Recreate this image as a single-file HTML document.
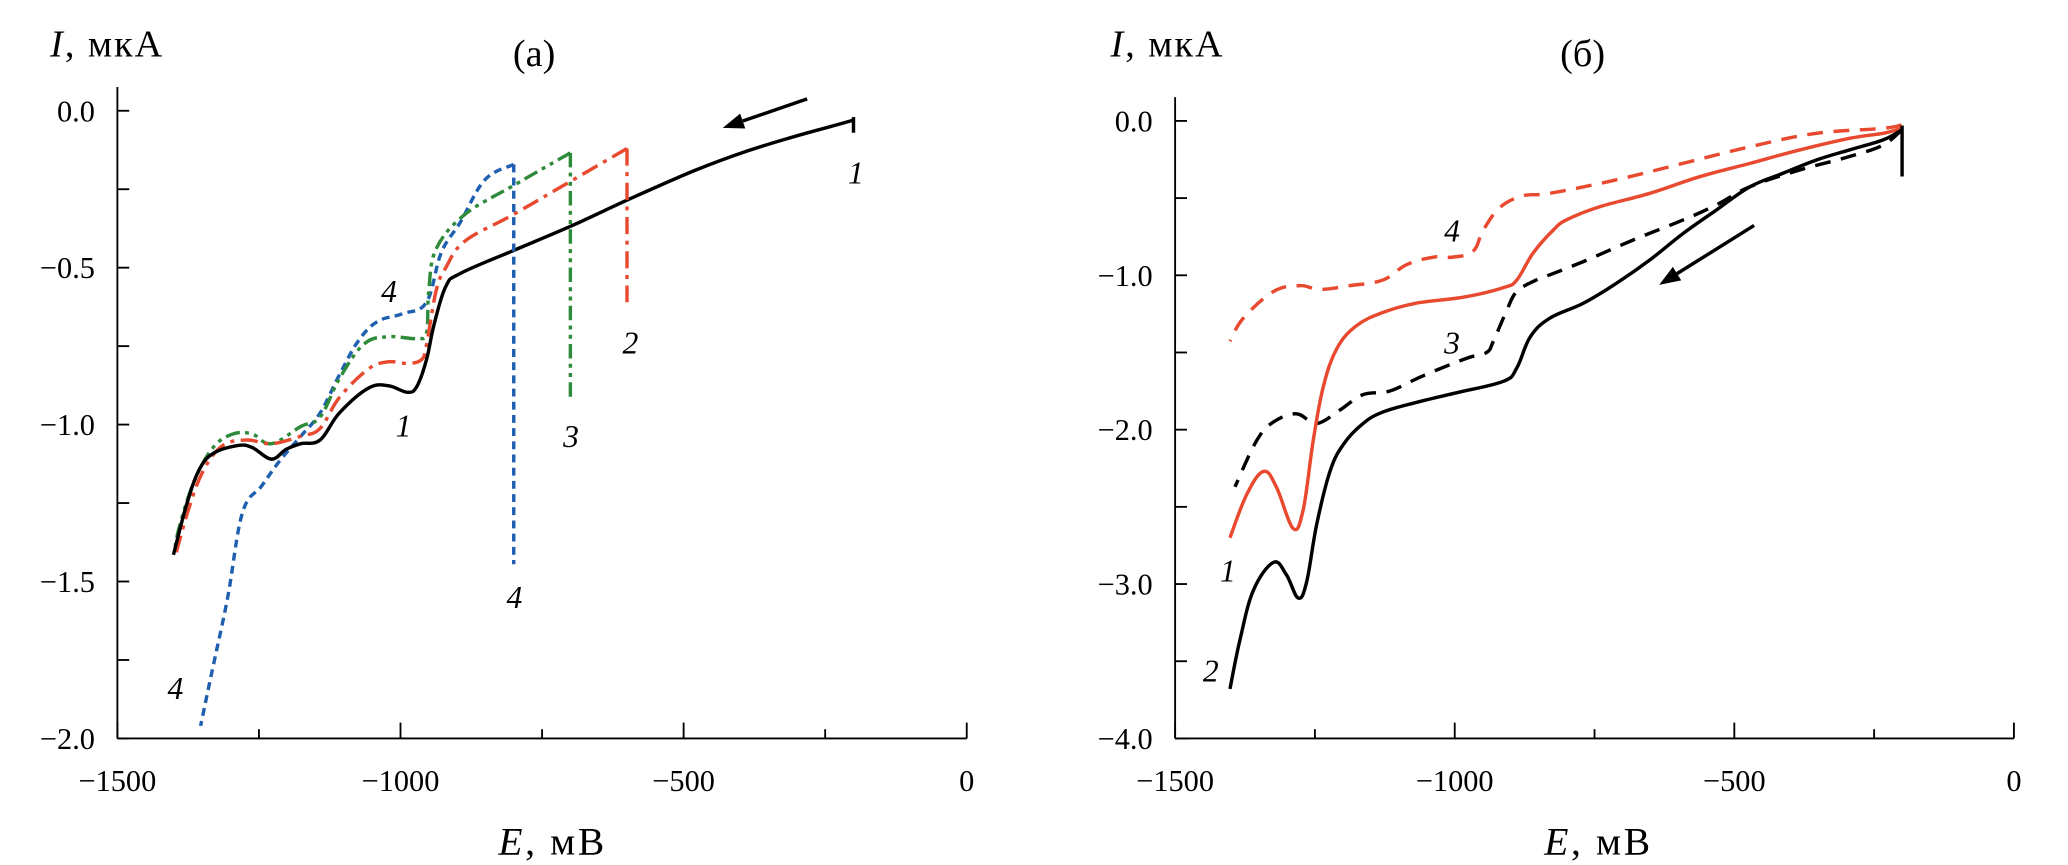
<!DOCTYPE html>
<html><head><meta charset="utf-8"><style>
html,body{margin:0;padding:0;background:#fff;}
svg{display:block;}
text{font-family:"Liberation Serif","DejaVu Serif",serif;fill:#000;}
</style></head><body>
<svg id="chart" width="2068" height="865" viewBox="0 0 1568 656" preserveAspectRatio="none" xmlns="http://www.w3.org/2000/svg" font-family="Liberation Serif, DejaVu Serif, serif"></svg>
<script>
// ---------- data: panel (a) ----------
const aCurve1E = [-200,-240,-300,-389,-480,-594,-697,-800,-894,-920,-941,-954,-971,-988,-1022,-1057,-1108,-1142,-1176,-1202,-1228,-1262,-1288,-1331,-1356,-1378,-1401];
const aCurve1I = [-0.03,-0.05,-0.08,-0.129,-0.19,-0.28,-0.366,-0.445,-0.518,-0.56,-0.683,-0.793,-0.878,-0.897,-0.876,-0.884,-0.963,-1.049,-1.061,-1.079,-1.110,-1.073,-1.067,-1.092,-1.146,-1.256,-1.415];
const aCurve2E = [-600,-700,-800,-886,-920,-937,-954,-963,-988,-1022,-1057,-1108,-1142,-1176,-1228,-1271,-1314,-1348,-1374,-1399];
const aCurve2I = [-0.12,-0.225,-0.33,-0.415,-0.50,-0.573,-0.745,-0.793,-0.805,-0.80,-0.823,-0.914,-1.012,-1.037,-1.061,-1.049,-1.067,-1.146,-1.268,-1.427];
const aCurve3E = [-700,-800,-886,-937,-950,-954,-971,-1022,-1065,-1108,-1142,-1176,-1228,-1262,-1296,-1331,-1365,-1391,-1399];
const aCurve3I = [-0.134,-0.238,-0.33,-0.44,-0.573,-0.707,-0.726,-0.72,-0.744,-0.854,-0.976,-1.006,-1.061,-1.03,-1.03,-1.073,-1.183,-1.329,-1.40];
const aCurve4E = [-800,-851,-894,-928,-954,-997,-1040,-1074,-1108,-1142,-1176,-1211,-1245,-1279,-1305,-1331,-1353];
const aCurve4I = [-0.171,-0.22,-0.354,-0.452,-0.61,-0.647,-0.671,-0.732,-0.842,-0.963,-1.037,-1.11,-1.195,-1.28,-1.549,-1.77,-1.96];
const aJumpE = [-200,-600,-700,-800];
const aJumpTop = [-0.02,-0.12,-0.134,-0.171];
const aJumpBottom = [-0.07,-0.61,-0.927,-1.445];
const aXTicks = [-1500,-1000,-500,0];
const aYTicks = [0,-0.5,-1.0,-1.5,-2.0];
const aYTickLabels = ["0.0","\u22120.5","\u22121.0","\u22121.5","\u22122.0"];
// ---------- data: panel (б) ----------
const bCurve1E = [-201,-234,-294,-383,-472,-562,-651,-740,-800,-824,-860,-889,-913,-985,-1068,-1128,-1176,-1211,-1235,-1253,-1271,-1289,-1319,-1342,-1372,-1402];
const bCurve1I = [-0.048,-0.08,-0.113,-0.188,-0.275,-0.361,-0.469,-0.555,-0.641,-0.708,-0.857,-1.03,-1.08,-1.142,-1.18,-1.24,-1.327,-1.476,-1.72,-2.07,-2.52,-2.64,-2.37,-2.27,-2.42,-2.70];
const bCurve2E = [-201,-234,-294,-353,-413,-472,-532,-591,-651,-710,-770,-830,-865,-889,-913,-997,-1068,-1128,-1164,-1199,-1223,-1247,-1265,-1280,-1301,-1324,-1360,-1384,-1402];
const bCurve2I = [-0.059,-0.123,-0.188,-0.253,-0.339,-0.426,-0.577,-0.728,-0.90,-1.05,-1.181,-1.278,-1.40,-1.60,-1.687,-1.761,-1.823,-1.885,-1.96,-2.095,-2.27,-2.615,-2.99,-3.09,-2.94,-2.86,-3.04,-3.36,-3.68];
const bCurve3E = [-201,-234,-294,-383,-472,-532,-591,-681,-770,-830,-854,-889,-907,-931,-943,-979,-1056,-1116,-1164,-1205,-1247,-1283,-1324,-1354,-1393];
const bCurve3I = [-0.059,-0.156,-0.231,-0.318,-0.426,-0.544,-0.641,-0.771,-0.911,-0.997,-1.03,-1.105,-1.228,-1.427,-1.50,-1.538,-1.65,-1.749,-1.773,-1.872,-1.96,-1.897,-1.95,-2.07,-2.37];
const bCurve4E = [-201,-234,-353,-472,-592,-711,-830,-878,-919,-949,-967,-1003,-1038,-1086,-1128,-1187,-1241,-1277,-1324,-1378,-1402];
const bCurve4I = [-0.026,-0.048,-0.08,-0.167,-0.275,-0.382,-0.469,-0.485,-0.56,-0.708,-0.844,-0.882,-0.882,-0.931,-1.03,-1.067,-1.092,-1.067,-1.105,-1.278,-1.427];
const bJumpE = [-200];
const bJumpTop = [-0.03];
const bJumpBottom = [-0.36];
const bXTicks = [-1500,-1000,-500,0];
const bYTicks = [0,-1,-2,-3,-4];
const bYTickLabels = ["0.0","\u22121.0","\u22122.0","\u22123.0","\u22124.0"];

const NS = "http://www.w3.org/2000/svg";
const svg = document.getElementById('chart');
function mk(tag, attrs, parent){ const e=document.createElementNS(NS,tag); for(const k in attrs) e.setAttribute(k,attrs[k]); (parent||svg).appendChild(e); return e; }

const A = {x0:89, x1:733, yTop:84, yBot:560, eMin:-1500, eMax:0, iMax:0, iMin:-2};
const B = {x0:891, x1:1527, yTop:91.7, yBot:560, eMin:-1500, eMax:0, iMax:0, iMin:-4};
function sx(p,e){ return p.x0 + (e-p.eMin)/(p.eMax-p.eMin)*(p.x1-p.x0); }
function sy(p,i){ return p.yTop + (p.iMax-i)/(p.iMax-p.iMin)*(p.yBot-p.yTop); }

function smoothPath(pts){
  let d = `M${pts[0][0].toFixed(1)},${pts[0][1].toFixed(1)}`;
  for(let k=0;k<pts.length-1;k++){
    const p0=pts[Math.max(k-1,0)], p1=pts[k], p2=pts[k+1], p3=pts[Math.min(k+2,pts.length-1)];
    const t=0.18;
    const c1=[p1[0]+(p2[0]-p0[0])*t, p1[1]+(p2[1]-p0[1])*t];
    const c2=[p2[0]-(p3[0]-p1[0])*t, p2[1]-(p3[1]-p1[1])*t];
    d += ` C${c1[0].toFixed(1)},${c1[1].toFixed(1)} ${c2[0].toFixed(1)},${c2[1].toFixed(1)} ${p2[0].toFixed(1)},${p2[1].toFixed(1)}`;
  }
  return d;
}
function drawCurve(p, E, I, color, dash, name){
  const pts = E.map((e,k)=>[sx(p,e), sy(p,I[k])]);
  const el = mk('path',{d:smoothPath(pts),fill:'none',stroke:color,'stroke-width':2.6,'stroke-dasharray':dash,'stroke-linejoin':'round'});
  
  
}
function drawJumps(p, E, top, bot, colors, dashes, prefix){
  E.forEach((e,k)=>{
    const el = mk('line',{x1:sx(p,e),x2:sx(p,e),y1:sy(p,top[k]),y2:sy(p,bot[k]),stroke:colors[k],'stroke-width':2.6,'stroke-dasharray':dashes[k]});
    
    
  });
}
function text(x,y,s,opts,name){
  const el = mk('text',Object.assign({x:x,y:y,'font-family':'Liberation Serif, DejaVu Serif, serif'},opts||{}));
  el.textContent = s;
  
  
  return el;
}
function drawAxes(p, xTicks, yTicks, yLabels, minorY, prefix){
  const ya = mk('line',{x1:p.x0,x2:p.x0,y1:p.yTop-18,y2:p.yBot,stroke:'#000','stroke-width':1.4});
   
  const xa = mk('line',{x1:p.x0,x2:p.x1,y1:p.yBot,y2:p.yBot,stroke:'#000','stroke-width':1.4});
   
  for(let e=p.eMin;e<=p.eMax;e+=250){
    const major = (e % 500) === 0;
    const t = mk('line',{x1:sx(p,e),x2:sx(p,e),y1:p.yBot,y2:p.yBot-(major?12:7),stroke:'#000','stroke-width':1.4});
     
  }
  xTicks.forEach(e=>{
    text(sx(p,e), p.yBot+40, e<0 ? '\u2212'+Math.abs(e) : String(e), {'font-size':23,'text-anchor':'middle'}, prefix+'-x-tick-label');
  });
  for(let i=p.iMax;i>=p.iMin-1e-9;i-=minorY){
    const t = mk('line',{x1:p.x0,x2:p.x0+9,y1:sy(p,i),y2:sy(p,i),stroke:'#000','stroke-width':1.4});
     
  }
  yTicks.forEach((v,k)=>{
    text(p.x0-17, sy(p,v)+8, yLabels[k], {'font-size':23,'text-anchor':'end'}, prefix+'-y-tick-label');
  });
}
function arrow(x1,y1,x2,y2,name){
  const g = mk('g',{});
   
  const ang = Math.atan2(y2-y1,x2-x1), L=16, W=6;
  const bx = x2-L*Math.cos(ang), by=y2-L*Math.sin(ang);
  mk('line',{x1:x1,y1:y1,x2:bx,y2:by,stroke:'#000','stroke-width':2.6},g);
  mk('polygon',{points:`${x2},${y2} ${bx-W*Math.sin(ang)},${by+W*Math.cos(ang)} ${bx+W*Math.sin(ang)},${by-W*Math.cos(ang)}`,fill:'#000'},g);
}

// ---- Panel (a) ----
drawAxes(A, aXTicks, aYTicks, aYTickLabels, 0.25, 'a');
const RED='#e8492f', GREEN='#2e8b3a', BLUE='#1f5fb0';
drawCurve(A, aCurve4E, aCurve4I, BLUE, '6 4', 'a-curve-4');
drawCurve(A, aCurve3E, aCurve3I, GREEN, '11 4 3 4 3 4', 'a-curve-3');
drawCurve(A, aCurve2E, aCurve2I, RED, '13 5 3 5', 'a-curve-2');
drawCurve(A, aCurve1E, aCurve1I, '#000', 'none', 'a-curve-1');
drawJumps(A, aJumpE, aJumpTop, aJumpBottom, ['#000',RED,GREEN,BLUE], ['none','13 5 3 5','11 4 3 4 3 4','6 4'], 'a-jump');
arrow(612,75,548,97,'a-scan-arrow');
const it = {'font-size':24,'font-style':'italic'};
text(643,139,'1',it,'a-label-1'); text(472,268,'2',it,'a-label-2'); text(427,339,'3',it,'a-label-3');
text(384,461,'4',it,'a-label-4-bottom'); text(127,530,'4',it,'a-label-4-left'); text(289,229,'4',it,'a-label-4-mid');
text(300,331,'1',it,'a-label-1-mid');
const ta = text(38,43,'',{'font-size':29,'letter-spacing':'1.5'},'a-y-axis-title');
ta.innerHTML = '<tspan font-style="italic">I</tspan>, мкА';
text(405,50,'(a)',{'font-size':29,'text-anchor':'middle'},'a-panel-title');
const xa = text(419,648,'',{'font-size':30,'text-anchor':'middle','letter-spacing':'2'},'a-x-axis-title');
xa.innerHTML = '<tspan font-style="italic">E</tspan>, мВ';

// ---- Panel (б) ----
drawAxes(B, bXTicks, bYTicks, bYTickLabels, 0.5, 'b');
drawCurve(B, bCurve4E, bCurve4I, RED, '12 8', 'b-curve-4');
drawCurve(B, bCurve3E, bCurve3I, '#000', '12 8', 'b-curve-3');
drawCurve(B, bCurve1E, bCurve1I, RED, 'none', 'b-curve-1');
drawCurve(B, bCurve2E, bCurve2I, '#000', 'none', 'b-curve-2');
drawJumps(B, bJumpE, bJumpTop, bJumpBottom, ['#000'], ['none'], 'b-jump');
arrow(1330,171,1258,216,'b-scan-arrow');
text(1095,183,'4',it,'b-label-4'); text(1095,268,'3',it,'b-label-3');
text(925,441,'1',it,'b-label-1'); text(912,517,'2',it,'b-label-2');
const tb = text(842,43,'',{'font-size':29,'letter-spacing':'1.5'},'b-y-axis-title');
tb.innerHTML = '<tspan font-style="italic">I</tspan>, мкА';
text(1200,50,'(б)',{'font-size':29,'text-anchor':'middle'},'b-panel-title');
const xb = text(1212,648,'',{'font-size':30,'text-anchor':'middle','letter-spacing':'2'},'b-x-axis-title');
xb.innerHTML = '<tspan font-style="italic">E</tspan>, мВ';
</script>
</body></html>
